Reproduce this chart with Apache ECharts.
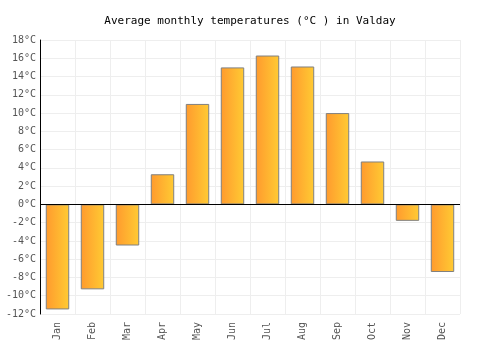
<!DOCTYPE html>
<html>
<head>
<meta charset="utf-8">
<script src="https://cdn.jsdelivr.net/npm/echarts@6/dist/echarts.min.js"></script>
<style>
html, body { margin: 0; padding: 0; background: #fff; }
#chart { width: 500px; height: 350px; }
</style>
</head>
<body>
<div id="chart"></div>
<script>
var months = ['Jan', 'Feb', 'Mar', 'Apr', 'May', 'Jun', 'Jul', 'Aug', 'Sep', 'Oct', 'Nov', 'Dec'];
var temps = [-11.5, -9.3, -4.5, 3.3, 11.0, 15.0, 16.3, 15.1, 10.0, 4.7, -1.8, -7.4];

var font = 'DejaVu Sans Mono';
var myChart = echarts.init(document.getElementById('chart'));

var option = {
    animation: false,
    title: {
        text: 'Average monthly temperatures (°C ) in Valday',
        left: 'center',
        top: 11,
        textStyle: { fontFamily: font, fontSize: 11, fontWeight: 'normal', color: '#000' }
    },
    grid: { left: 40, right: 40, top: 40, bottom: 36 },
    xAxis: {
        type: 'category',
        data: months,
        axisLine: { show: false },
        axisTick: { show: false },
        axisLabel: { rotate: 90, color: '#555', fontFamily: font, fontSize: 10, margin: 8 },
        splitLine: { show: true, lineStyle: { color: '#eee' } }
    },
    yAxis: {
        type: 'value',
        min: -12,
        max: 18,
        interval: 2,
        axisLine: { show: true, lineStyle: { color: '#000' } },
        axisTick: { show: false },
        axisLabel: { color: '#555', fontFamily: font, fontSize: 10, margin: 4, formatter: '{value}°C' },
        splitLine: { lineStyle: { color: '#eee' } }
    },
    series: [{
        type: 'bar',
        data: temps,
        barWidth: '67%',
        itemStyle: {
            color: new echarts.graphic.LinearGradient(0, 0, 1, 0, [
                { offset: 0, color: '#ff9a2e' },
                { offset: 1, color: '#ffcb33' }
            ]),
            borderColor: '#808080',
            borderWidth: 1
        },
        markLine: {
            silent: true,
            symbol: 'none',
            label: { show: false },
            lineStyle: { color: '#000', type: 'solid', width: 1 },
            data: [{ yAxis: 0 }]
        }
    }]
};

myChart.setOption(option);
</script>
</body>
</html>
